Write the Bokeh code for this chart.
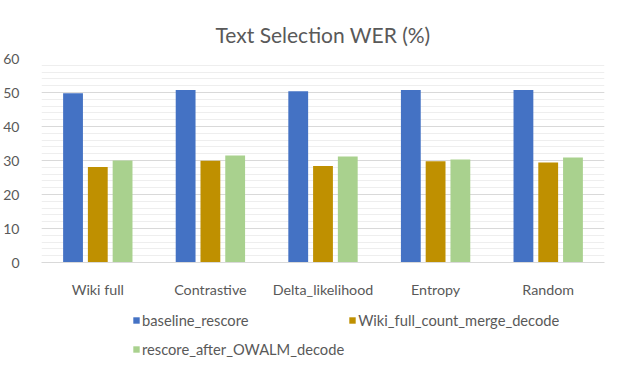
from bokeh.plotting import figure
from bokeh.layouts import column
from bokeh.models import ColumnDataSource, FactorRange, Legend, LegendItem, SingleIntervalTicker, Range1d
from bokeh.transform import dodge
from bokeh.embed import file_html
from bokeh.resources import INLINE

categories = ["Wiki full", "Contrastive", "Delta_likelihood", "Entropy", "Random"]
baseline_rescore = [49.8, 50.7, 50.4, 50.7, 50.7]
wiki_full_count_merge_decode = [28.1, 29.9, 28.4, 29.8, 29.4]
rescore_after_owalm_decode = [30.0, 31.5, 31.2, 30.3, 30.9]
series_names = ["baseline_rescore", "Wiki_full_count_merge_decode", "rescore_after_OWALM_decode"]
colors = ["#4472C4", "#BF9000", "#A9D18E"]

src = ColumnDataSource(dict(cat=categories, a=baseline_rescore, b=wiki_full_count_merge_decode, c=rescore_after_owalm_decode))

FONT = "Lato"
GREY = "#595959"

p = figure(x_range=FactorRange(*categories, range_padding=0), y_range=Range1d(0, 60),
           width=616, height=300,
           min_border_left=35, min_border_right=12, min_border_top=58, min_border_bottom=36,
           output_backend="svg", toolbar_location=None, title="Text Selection WER (%)")

p.title.align = "center"
p.title.text_font = FONT
p.title.text_font_size = "21px"
p.title.text_font_style = "normal"
p.title.text_color = GREY
p.title.standoff = 24

offs = [-0.22, 0.0, 0.22]
renderers = []
for key, off, col in zip(["a", "b", "c"], offs, colors):
    r = p.vbar(x=dodge("cat", off, range=p.x_range), top=key, width=0.176, source=src,
               fill_color=col, line_color=None)
    renderers.append(r)

p.outline_line_color = None
p.background_fill_color = "white"

p.yaxis.ticker = SingleIntervalTicker(interval=10, num_minor_ticks=5)
p.yaxis.axis_line_color = None
p.yaxis.major_tick_line_color = None
p.yaxis.minor_tick_line_color = None
p.yaxis.major_label_text_font = FONT
p.yaxis.major_label_text_font_size = "14px"
p.yaxis.major_label_text_color = GREY
p.yaxis.major_label_standoff = 16

p.xaxis.axis_line_color = "#d9d9d9"
p.xaxis.major_tick_line_color = None
p.xaxis.minor_tick_line_color = None
p.xaxis.major_label_text_font = FONT
p.xaxis.major_label_text_font_size = "14.3px"
p.xaxis.major_label_text_color = GREY
p.xaxis.major_label_standoff = 12

p.xgrid.grid_line_color = None
p.ygrid.grid_line_color = "#d9d9d9"
p.ygrid.minor_grid_line_color = "#eeeeee"

# legend panel (second figure sharing the same series styles)
p2 = figure(x_range=FactorRange(*categories), y_range=Range1d(1000, 1001),
            width=616, height=62, min_border=0, x_axis_location=None, y_axis_location=None,
            output_backend="svg", toolbar_location=None)
p2.grid.visible = False
p2.outline_line_color = None
leg_renderers = []
for key, off, col in zip(["a", "b", "c"], offs, colors):
    r = p2.vbar(x=dodge("cat", off, range=p2.x_range), top=key, width=0.176, source=src,
                fill_color=col, line_color=None)
    leg_renderers.append(r)

legend = Legend(items=[LegendItem(label=n, renderers=[r]) for n, r in zip(series_names, leg_renderers)],
                location=(91, 1), ncols=2, orientation="horizontal")
legend.label_text_font = FONT
legend.label_text_font_size = "14.7px"
legend.label_text_color = GREY
legend.glyph_width = 8
legend.glyph_height = 8
legend.label_standoff = 2
legend.label_height = 25
legend.spacing = 4
legend.padding = 0
legend.margin = 0
legend.border_line_color = None
legend.background_fill_alpha = 0
p2.add_layout(legend, "center")

layout = column(p, p2, spacing=0)

open("out.html", "w").write(file_html(layout, INLINE))
